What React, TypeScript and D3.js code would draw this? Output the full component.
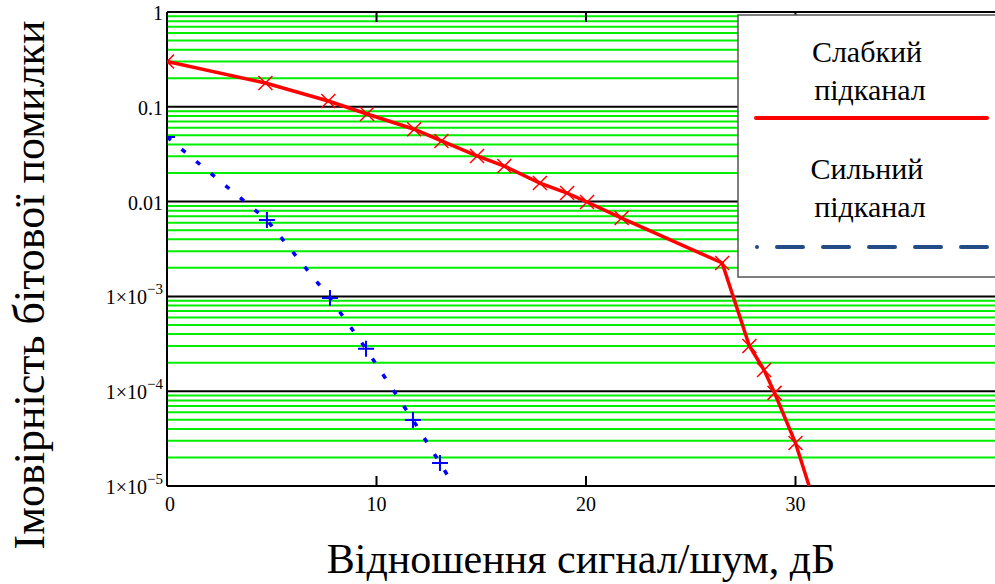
import React, { useEffect, useRef } from 'react';
import * as d3 from 'd3';

// weak subchannel (red, x markers)
const weakSnr = [0, 4.7, 7.7, 9.55, 11.8, 13.1, 14.8, 16.1, 17.8, 19.1, 20.05, 21.7, 26.5, 27.8, 28.5, 29.0, 30.0];
const weakBer = [0.3, 0.178, 0.115, 0.084, 0.058, 0.0436, 0.0303, 0.0237, 0.0157, 0.0123, 0.0099, 0.0067, 0.00225, 3.0e-4, 1.67e-4, 9.6e-5, 2.84e-5];
const weakEnd = { x: 30.65, y: 1e-5 };

// strong subchannel (blue, + markers)
const strongSnr = [0, 4.77, 7.78, 9.5, 11.74, 13.03];
const strongBer = [0.048, 0.0064, 9.6e-4, 2.8e-4, 4.97e-5, 1.75e-5];
const strongEnd = { x: 13.7, y: 1e-5 };

const xTicks = [0, 10, 20, 30];
const yDecades = [1, 0.1, 0.01, 1e-3, 1e-4, 1e-5];
const yTickLabels = ['1', '0.1', '0.01', '1×10|−3', '1×10|−4', '1×10|−5'];

const legendLabels = [['Слабкий', 'підканал'], ['Сильний', 'підканал']];
const xTitle = 'Відношення сигнал/шум, дБ';
const yTitle = 'Імовірність бітової помилки';

const FONT = "'Liberation Serif', Tinos, 'Times New Roman', serif";

export default function App() {
  const ref = useRef<SVGSVGElement>(null);

  useEffect(() => {
    const svg = d3.select(ref.current);
    svg.selectAll('*').remove();

    const left = 167, top = 12, bottom = 486, right = 1005;
    const x = d3.scaleLinear().domain([0, 40]).range([left, right]);
    const y = d3.scaleLog().domain([1e-5, 1]).range([bottom, top]);

    svg.append('defs').append('clipPath').attr('id', 'plot')
      .append('rect').attr('x', left).attr('y', top).attr('width', right - left).attr('height', bottom - top);

    // minor green grid
    const minor: number[] = [];
    yDecades.slice(1).forEach((d) => {
      for (let k = 2; k <= 9; k++) minor.push(d * k);
    });
    svg.append('g').selectAll('line').data(minor).join('line')
      .attr('x1', left).attr('x2', right)
      .attr('y1', (d) => y(d)).attr('y2', (d) => y(d))
      .attr('stroke', '#00ee00').attr('stroke-width', 2);

    // decade lines
    svg.append('g').selectAll('line').data(yDecades).join('line')
      .attr('x1', left).attr('x2', right)
      .attr('y1', (d) => y(d)).attr('y2', (d) => y(d))
      .attr('stroke', '#000').attr('stroke-width', 2);

    // left axis line
    svg.append('line').attr('x1', left).attr('x2', left).attr('y1', top).attr('y2', bottom)
      .attr('stroke', '#000').attr('stroke-width', 2);

    // x ticks (top and bottom)
    const tk = svg.append('g');
    xTicks.slice(1).forEach((t) => {
      tk.append('line').attr('x1', x(t)).attr('x2', x(t)).attr('y1', bottom).attr('y2', bottom - 10)
        .attr('stroke', '#000').attr('stroke-width', 2);
      tk.append('line').attr('x1', x(t)).attr('x2', x(t)).attr('y1', top).attr('y2', top + 10)
        .attr('stroke', '#000').attr('stroke-width', 2);
    });
    svg.append('g').selectAll('text').data(xTicks).join('text')
      .attr('x', (d) => x(d) + (d === 0 ? 3 : 0)).attr('y', bottom + 25)
      .attr('text-anchor', 'middle').style('font-family', FONT).attr('font-size', 20)
      .text((d) => String(d));

    // y tick labels
    const yl = svg.append('g');
    yDecades.forEach((d, i) => {
      const parts = yTickLabels[i].split('|');
      const t = yl.append('text').attr('x', left - 4).attr('y', y(d) + 8)
        .attr('text-anchor', 'end').style('font-family', FONT).attr('font-size', 20);
      t.append('tspan').text(parts[0]);
      if (parts[1]) {
        t.append('tspan').attr('dy', -10).attr('font-size', 15).text(parts[1]);
      }
    });

    const plot = svg.append('g').attr('clip-path', 'url(#plot)');

    // legend box (over grid)
    const lg = svg.append('g').style('font-family', FONT);
    lg.append('rect').attr('x', 738).attr('y', 15).attr('width', 270).attr('height', 262)
      .attr('fill', '#fff').attr('stroke', '#555').attr('stroke-width', 1.5);
    const lx = 867;
    lg.append('text').attr('x', lx).attr('y', 62).attr('text-anchor', 'middle').attr('font-size', 30).text(legendLabels[0][0]);
    lg.append('text').attr('x', lx + 3).attr('y', 100).attr('text-anchor', 'middle').attr('font-size', 30).text(legendLabels[0][1]);
    lg.append('line').attr('x1', 756).attr('x2', 987).attr('y1', 118).attr('y2', 118)
      .attr('stroke', '#ff0000').attr('stroke-width', 4).attr('stroke-linecap', 'round');
    lg.append('text').attr('x', lx).attr('y', 179).attr('text-anchor', 'middle').attr('font-size', 30).text(legendLabels[1][0]);
    lg.append('text').attr('x', lx + 3).attr('y', 217).attr('text-anchor', 'middle').attr('font-size', 30).text(legendLabels[1][1]);
    lg.append('circle').attr('cx', 757).attr('cy', 247).attr('r', 2).attr('fill', '#234b85');
    lg.append('line').attr('x1', 777).attr('x2', 988).attr('y1', 247).attr('y2', 247)
      .attr('stroke', '#234b85').attr('stroke-width', 4).attr('stroke-linecap', 'round')
      .attr('stroke-dasharray', '26,20');

    const line = d3.line<{ x: number; y: number }>().x((d) => x(d.x)).y((d) => y(d.y));

    // weak
    const weak = weakSnr.map((s, i) => ({ x: s, y: weakBer[i] }));
    plot.append('path').datum([...weak, weakEnd]).attr('d', line)
      .attr('fill', 'none').attr('stroke', '#ff0000').attr('stroke-width', 3.5);
    plot.append('g').selectAll('path').data(weak).join('path')
      .attr('d', (d) => {
        const cx = x(d.x), cy = y(d.y), r = 7;
        return `M${cx - r},${cy - r}L${cx + r},${cy + r}M${cx - r},${cy + r}L${cx + r},${cy - r}`;
      })
      .attr('stroke', '#ff0000').attr('stroke-width', 1.5).attr('fill', 'none');

    // strong
    const strong = strongSnr.map((s, i) => ({ x: s, y: strongBer[i] }));
    plot.append('path').datum([...strong, strongEnd]).attr('d', line)
      .attr('fill', 'none').attr('stroke', '#0000ff').attr('stroke-width', 3.5)
      .attr('stroke-dasharray', '5,14');
    plot.append('g').selectAll('path').data(strong).join('path')
      .attr('d', (d) => {
        const cx = x(d.x), cy = y(d.y), r = 8;
        return `M${cx - r},${cy}L${cx + r},${cy}M${cx},${cy - r}L${cx},${cy + r}`;
      })
      .attr('stroke', '#0000ff').attr('stroke-width', 2).attr('fill', 'none');

    // titles
    svg.append('text').attr('x', 581).attr('y', 573).attr('text-anchor', 'middle')
      .style('font-family', FONT).attr('font-size', 42).text(xTitle);
    svg.append('text').attr('transform', `translate(44,285) rotate(-90)`).attr('text-anchor', 'middle')
      .style('font-family', FONT).attr('font-size', 44).text(yTitle);
  }, []);

  return (
    <svg ref={ref} width={995} height={584}
      style={{ position: 'absolute', left: 0, top: 0, background: '#fff' }} />
  );
}
